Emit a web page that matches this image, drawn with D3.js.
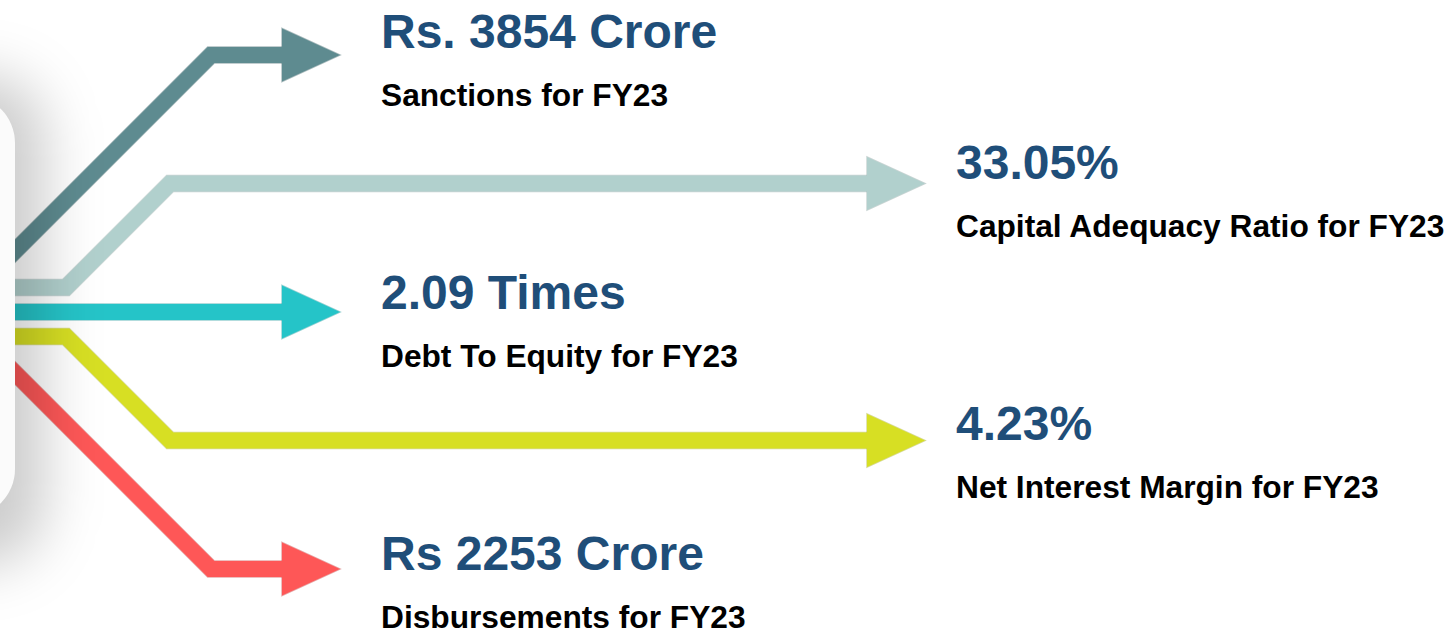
<!DOCTYPE html>
<html>
<head>
<meta charset="utf-8">
<script src="https://cdn.jsdelivr.net/npm/d3@7"></script>
<style>
  html, body { margin: 0; padding: 0; background: #ffffff; }
  svg { display: block; }
  text { font-family: "Liberation Sans", Arial, sans-serif; font-weight: bold; }
</style>
</head>
<body>
<div id="chart"></div>
<script>
// Chart data
var values = ["Rs. 3854 Crore", "33.05%", "2.09 Times", "4.23%", "Rs 2253 Crore"];
var labels = ["Sanctions for FY23", "Capital Adequacy Ratio for FY23", "Debt To Equity for FY23",
              "Net Interest Margin for FY23", "Disbursements for FY23"];
var colors = ["#5e8b90", "#b1d0cd", "#25c4c8", "#d7df23", "#fe5757"];

// Static layout / style
var style = {
    width: 1452,
    height: 629,
    stemWidth: 16,
    headLength: 58,
    headHalf: 26.5,
    hubSpacing: 24.5,
    leftTip: 340,
    rightTip: 925,
    leftTextX: 381,
    rightTextX: 956,
    outerBendEnd: 211,
    innerBendEnd: 170,
    panelRight: 15,
    valueColor: "#1f4e79",
    labelColor: "#000000",
    valueSize: 48,
    labelSize: 31.7,
    labelGap: 58
};

var svg = d3.select("#chart").append("svg")
    .attr("width", style.width)
    .attr("height", style.height);

var defs = svg.append("defs");
defs.append("filter")
    .attr("id", "panelShadow")
    .attr("x", "-100%").attr("y", "-50%")
    .attr("width", "300%").attr("height", "200%")
    .append("feGaussianBlur")
    .attr("stdDeviation", 28);

// Scales
var arrowY = d3.scalePoint().domain(values).range([55, 569]);
var textY = d3.scalePoint().domain(values).range([48, 570]);
var hubMid = arrowY(values[2]);
var hubY = d3.scalePoint().domain(values)
    .range([hubMid - 2 * style.hubSpacing, hubMid + 2 * style.hubSpacing]);

var line = d3.line();

function arrowGeometry(v, i) {
    var y = arrowY(v);
    var hub = hubY(v);
    var tip = i % 2 === 0 ? style.leftTip : style.rightTip;
    var base = tip - style.headLength;
    var pts;
    if (Math.abs(y - hub) < 2) {
        pts = [[-30, y], [base + 2, y]];
    } else {
        var bendEnd = (i === 0 || i === values.length - 1) ? style.outerBendEnd : style.innerBendEnd;
        var bendStart = bendEnd - Math.abs(y - hub);
        pts = [[-30, hub], [bendStart, hub], [bendEnd, y], [base + 2, y]];
    }
    var head = [[base, y - style.headHalf], [tip, y], [base, y + style.headHalf]];
    return { stem: pts, head: head };
}

var arrows = svg.append("g").attr("class", "arrows");

values.forEach(function(v, i) {
    var g = arrowGeometry(v, i);
    var c = colors[i];
    var edge = d3.color(c).darker(0.7).formatHex();
    var group = arrows.append("g").attr("class", "arrow");

    // thin darker outline
    group.append("path")
        .attr("d", line(g.stem))
        .attr("fill", "none")
        .attr("stroke", edge)
        .attr("stroke-opacity", 0.45)
        .attr("stroke-width", style.stemWidth + 1.5)
        .attr("stroke-linejoin", "miter");
    group.append("path")
        .attr("d", line(g.head) + "Z")
        .attr("fill", "none")
        .attr("stroke", edge)
        .attr("stroke-opacity", 0.45)
        .attr("stroke-width", 1.5)
        .attr("stroke-linejoin", "miter");

    group.append("path")
        .attr("d", line(g.stem))
        .attr("fill", "none")
        .attr("stroke", c)
        .attr("stroke-width", style.stemWidth)
        .attr("stroke-linejoin", "miter");
    group.append("path")
        .attr("d", line(g.head) + "Z")
        .attr("fill", c);
});

// Shadow of the left panel, lying over the arrow roots
svg.append("rect")
    .attr("x", -200)
    .attr("y", 75)
    .attr("width", 245)
    .attr("height", 490)
    .attr("rx", 60)
    .attr("fill", "#000000")
    .attr("fill-opacity", 0.2)
    .attr("filter", "url(#panelShadow)");

// Left panel (only its right edge is in view)
svg.append("rect")
    .attr("x", -100)
    .attr("y", 95)
    .attr("width", 100 + style.panelRight)
    .attr("height", 422)
    .attr("rx", 48)
    .attr("fill", "#fbfbfb");

// Texts
var texts = svg.append("g").attr("class", "texts");

texts.selectAll("text.value")
    .data(values)
    .enter().append("text")
    .attr("class", "value")
    .attr("x", function(d, i) { return i % 2 === 0 ? style.leftTextX : style.rightTextX; })
    .attr("y", function(d) { return textY(d); })
    .attr("fill", style.valueColor)
    .attr("font-size", style.valueSize)
    .text(function(d) { return d; });

texts.selectAll("text.label")
    .data(labels)
    .enter().append("text")
    .attr("class", "label")
    .attr("x", function(d, i) { return i % 2 === 0 ? style.leftTextX : style.rightTextX; })
    .attr("y", function(d, i) { return textY(values[i]) + style.labelGap; })
    .attr("fill", style.labelColor)
    .attr("font-size", style.labelSize)
    .text(function(d) { return d; });
</script>
</body>
</html>
